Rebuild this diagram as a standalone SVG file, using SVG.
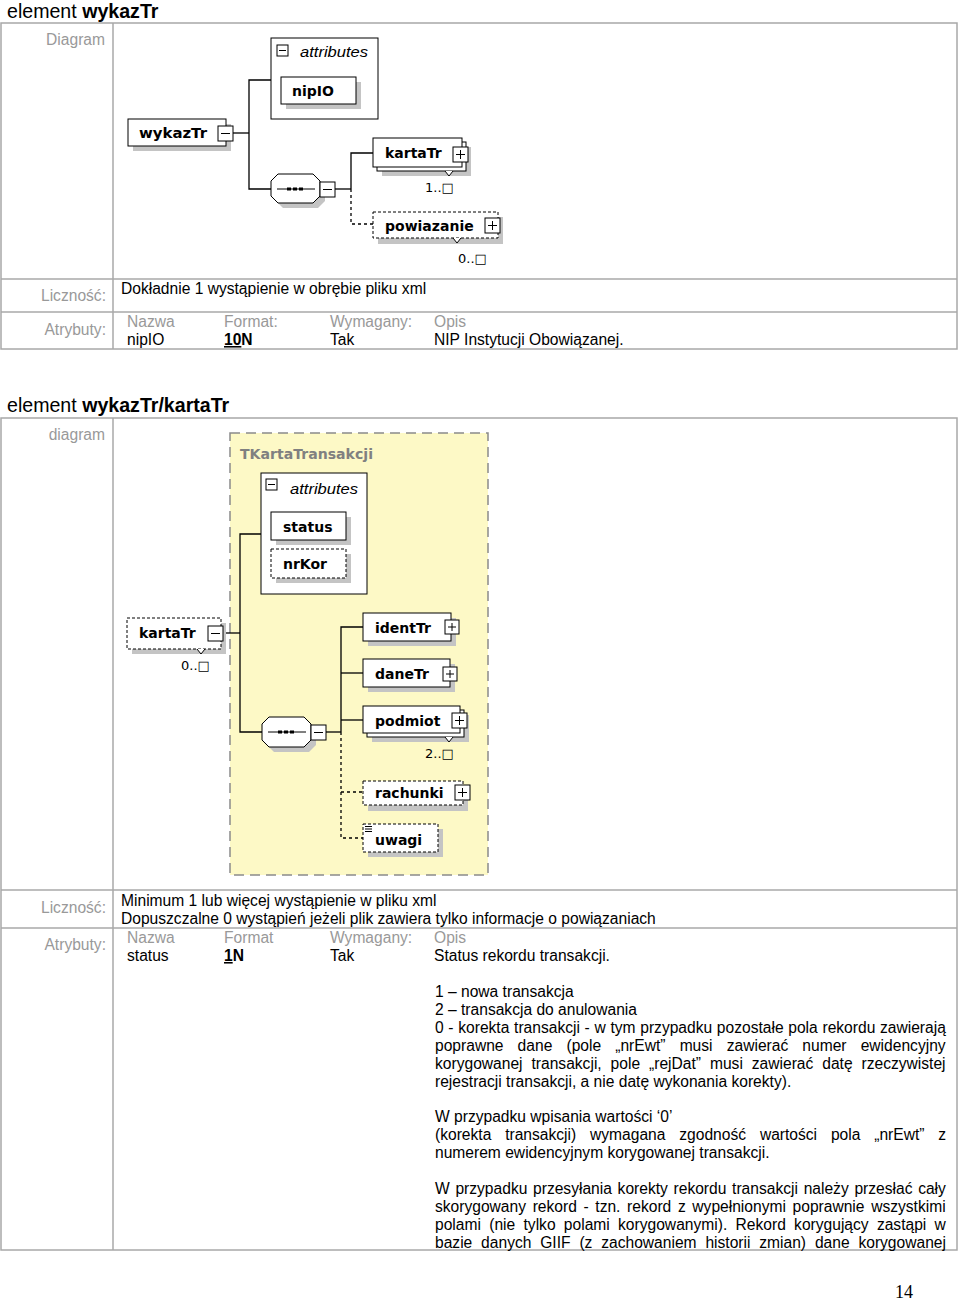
<svg xmlns="http://www.w3.org/2000/svg" width="960" height="1300" viewBox="0 0 960 1300">
<defs>
<style>
.t{font-family:"Liberation Sans",Arial,sans-serif;font-size:15.6px;fill:#000}
.g{font-family:"Liberation Sans",Arial,sans-serif;font-size:15.6px;fill:#999}
.h{font-family:"Liberation Sans",Arial,sans-serif;font-size:19.6px;fill:#000}
.tbl{fill:none;stroke:#a8a8a8;stroke-width:1.5}
.box{fill:#fff;stroke:#000;stroke-width:1}
.dbox{fill:#fff;stroke:#000;stroke-width:1;stroke-dasharray:3,2}
.sh{fill:#c4c4c4}
.n{font-family:"DejaVu Sans",Verdana,sans-serif;font-weight:bold;font-size:14px;fill:#000}
.it{font-family:"Liberation Sans",Arial,sans-serif;font-style:italic;font-size:15px;fill:#000}
.m{font-family:"DejaVu Sans",sans-serif;font-size:13px;fill:#000}
.c{fill:none;stroke:#000;stroke-width:1.3}
.dc{fill:none;stroke:#000;stroke-width:1.3;stroke-dasharray:3,3}
.pm{fill:#fff;stroke:#000;stroke-width:1}
</style>
</defs>

<!-- ===== Section 1 ===== -->
<text class="h" x="7" y="18">element <tspan font-weight="bold">wykazTr</tspan></text>
<g id="table1">
<rect class="tbl" x="1" y="23" width="956" height="326"/>
<line class="tbl" x1="113" y1="23" x2="113" y2="349"/>
<line class="tbl" x1="1" y1="279" x2="957" y2="279"/>
<line class="tbl" x1="1" y1="312" x2="957" y2="312"/>
<text class="g" x="105" y="45" text-anchor="end">Diagram</text>
<text class="g" x="106" y="301" text-anchor="end">Liczność:</text>
<text class="t" x="121" y="294">Dokładnie 1 wystąpienie w obrębie pliku xml</text>
<text class="g" x="106" y="335" text-anchor="end">Atrybuty:</text>
<text class="g" x="127" y="327">Nazwa</text>
<text class="g" x="224" y="327">Format:</text>
<text class="g" x="330" y="327">Wymagany:</text>
<text class="g" x="434" y="327">Opis</text>
<text class="t" x="127" y="345">nipIO</text>
<text class="t" x="224" y="345" font-weight="bold"><tspan text-decoration="underline">10</tspan>N</text>
<text class="t" x="330" y="345">Tak</text>
<text class="t" x="434" y="345">NIP Instytucji Obowiązanej.</text>
</g>

<g id="connectors1">
<polyline class="c" points="233,133 249,133"/>
<polyline class="c" points="271,80 249,80 249,189 271,189"/>
<polyline class="c" points="335,189 351,189"/>
<polyline class="c" points="373,153 351,153 351,189"/>
<polyline class="dc" points="351,189 351,224 373,224"/>
</g>

<g id="attributes1">
<rect class="box" x="271" y="38" width="107" height="81"/>
<rect class="pm" x="277" y="45" width="11" height="11"/>
<line x1="279" y1="50.5" x2="286" y2="50.5" stroke="#000"/>
<text class="it" x="300" y="57" textLength="68" lengthAdjust="spacingAndGlyphs">attributes</text>
</g>
<g id="nipIO">
<rect class="sh" x="286" y="82" width="75" height="27"/>
<rect class="box" x="281" y="77" width="75" height="27"/>
<text class="n" x="292" y="96">nipIO</text>
</g>
<g id="wykazTr">
<rect class="sh" x="133" y="124" width="98" height="27"/>
<rect class="box" x="128" y="119" width="98" height="27"/>
<text class="n" x="139" y="138" textLength="68" lengthAdjust="spacingAndGlyphs">wykazTr</text>
<rect class="pm" x="218" y="126" width="15" height="15"/>
<line x1="221" y1="133.5" x2="230" y2="133.5" stroke="#000"/>
</g>
<g id="sequence1">
<path class="sh" d="M283,179 H318 L325,186 V201 L318,208 H283 L276,201 V186 Z"/>
<path class="box" d="M278,174 H313 L320,181 V196 L313,203 H278 L271,196 V181 Z"/>
<line x1="277" y1="189" x2="315" y2="189" stroke="#000"/>
<rect x="287" y="187.5" width="4" height="3" fill="#000"/>
<rect x="293" y="187.5" width="4" height="3" fill="#000"/>
<rect x="299" y="187.5" width="4" height="3" fill="#000"/>
<rect class="pm" x="320" y="182" width="15" height="15"/>
<line x1="323" y1="189.5" x2="332" y2="189.5" stroke="#000"/>
</g>
<g id="kartaTr1">
<rect class="sh" x="382" y="147" width="89" height="29"/>
<rect class="box" x="377" y="142" width="89" height="29"/>
<rect class="box" x="373" y="138" width="89" height="29"/>
<path d="M445,171 L449,176 L453,171" fill="#fff" stroke="#000"/>
<text class="n" x="385" y="158">kartaTr</text>
<rect class="pm" x="453" y="147" width="15" height="15"/>
<line x1="456" y1="154.5" x2="465" y2="154.5" stroke="#000"/>
<line x1="460.5" y1="150" x2="460.5" y2="159" stroke="#000"/>
<text class="m" x="425" y="192">1..□</text>
</g>
<g id="powiazanie">
<rect class="sh" x="378" y="217" width="125" height="27"/>
<rect class="dbox" x="373" y="212" width="125" height="26"/>
<path d="M453,238 L457,243 L461,238" fill="#fff" stroke="#000"/>
<text class="n" x="385" y="231">powiazanie</text>
<rect class="pm" x="485" y="218" width="15" height="15"/>
<line x1="488" y1="225.5" x2="497" y2="225.5" stroke="#000"/>
<line x1="492.5" y1="221" x2="492.5" y2="230" stroke="#000"/>
<text class="m" x="458" y="263">0..□</text>
</g>

<!-- ===== Section 2 ===== -->
<text class="h" x="7" y="412">element <tspan font-weight="bold">wykazTr/kartaTr</tspan></text>
<g id="table2">
<rect class="tbl" x="1" y="418" width="956" height="832"/>
<line class="tbl" x1="113" y1="418" x2="113" y2="1250"/>
<line class="tbl" x1="1" y1="890" x2="957" y2="890"/>
<line class="tbl" x1="1" y1="928" x2="957" y2="928"/>
<text class="g" x="105" y="440" text-anchor="end">diagram</text>
<text class="g" x="106" y="913" text-anchor="end">Liczność:</text>
<text class="t" x="121" y="906">Minimum 1 lub więcej wystąpienie w pliku xml</text>
<text class="t" x="121" y="924">Dopuszczalne 0 wystąpień jeżeli plik zawiera tylko informacje o powiązaniach</text>
<text class="g" x="106" y="950" text-anchor="end">Atrybuty:</text>
<text class="g" x="127" y="943">Nazwa</text>
<text class="g" x="224" y="943">Format</text>
<text class="g" x="330" y="943">Wymagany:</text>
<text class="g" x="434" y="943">Opis</text>
<text class="t" x="127" y="961">status</text>
<text class="t" x="224" y="961" font-weight="bold"><tspan text-decoration="underline">1</tspan>N</text>
<text class="t" x="330" y="961">Tak</text>
<text class="t" x="434" y="961">Status rekordu transakcji.</text>
<text class="t" x="435" y="997">1 – nowa transakcja</text>
<text class="t" x="435" y="1015">2 – transakcja do anulowania</text>
<text class="t" x="435" y="1033" word-spacing="0.35">0 - korekta transakcji - w tym przypadku pozostałe pola rekordu zawierają</text>
<text class="t" x="435" y="1051" word-spacing="9.8">poprawne dane (pole „nrEwt” musi zawierać numer ewidencyjny</text>
<text class="t" x="435" y="1069" word-spacing="4.6">korygowanej transakcji, pole „rejDat” musi zawierać datę rzeczywistej</text>
<text class="t" x="435" y="1087">rejestracji transakcji, a nie datę wykonania korekty).</text>
<text class="t" x="435" y="1122">W przypadku wpisania wartości ‘0’</text>
<text class="t" x="435" y="1140" word-spacing="9.5">(korekta transakcji) wymagana zgodność wartości pola „nrEwt” z</text>
<text class="t" x="435" y="1158">numerem ewidencyjnym korygowanej transakcji.</text>
<text class="t" x="435" y="1194" word-spacing="1.35">W przypadku przesyłania korekty rekordu transakcji należy przesłać cały</text>
<text class="t" x="435" y="1212" word-spacing="2.3">skorygowany rekord - tzn. rekord z wypełnionymi poprawnie wszystkimi</text>
<text class="t" x="435" y="1230" word-spacing="3.95">polami (nie tylko polami korygowanymi). Rekord korygujący zastąpi w</text>
<text class="t" x="435" y="1248" word-spacing="4.5">bazie danych GIIF (z zachowaniem historii zmian) dane korygowanej</text>
</g>

<g id="TKartaTransakcji">
<rect x="230" y="433" width="258" height="442" fill="#fdf9c6" stroke="#8a8a8a" stroke-width="1.5" stroke-dasharray="10,6"/>
<text x="240" y="459" font-family="DejaVu Sans,Verdana,sans-serif" font-weight="bold" font-size="14" fill="#808080" textLength="133" lengthAdjust="spacingAndGlyphs">TKartaTransakcji</text>
</g>

<g id="connectors2">
<polyline class="c" points="261,534 240,534 240,732 262,732"/>
<polyline class="c" points="223,633 240,633"/>
<polyline class="c" points="326,732 341,732"/>
<polyline class="c" points="363,627 341,627 341,732"/>
<polyline class="c" points="341,673 363,673"/>
<polyline class="c" points="341,720 363,720"/>
<polyline class="dc" points="341,732 341,838 363,838"/>
<polyline class="dc" points="341,792 363,792"/>
</g>

<g id="attributes2">
<rect class="box" x="261" y="473" width="106" height="121"/>
<rect class="pm" x="266" y="479" width="11" height="11"/>
<line x1="268" y1="484.5" x2="275" y2="484.5" stroke="#000"/>
<text class="it" x="290" y="494" textLength="68" lengthAdjust="spacingAndGlyphs">attributes</text>
</g>
<g id="status">
<rect class="sh" x="276" y="517" width="75" height="28"/>
<rect class="box" x="271" y="512" width="75" height="28"/>
<text class="n" x="283" y="532">status</text>
</g>
<g id="nrKor">
<rect class="sh" x="276" y="554" width="75" height="29"/>
<rect class="dbox" x="271" y="549" width="75" height="29"/>
<text class="n" x="283" y="569">nrKor</text>
</g>
<g id="kartaTr2">
<rect class="sh" x="132" y="623" width="94" height="31"/>
<rect class="dbox" x="127" y="618" width="94" height="31"/>
<path d="M197,649 L201,654 L205,649" fill="#fff" stroke="#000"/>
<text class="n" x="139" y="638">kartaTr</text>
<rect class="pm" x="208" y="626" width="15" height="15"/>
<line x1="211" y1="633.5" x2="220" y2="633.5" stroke="#000"/>
<text class="m" x="181" y="670">0..□</text>
</g>
<g id="sequence2">
<path class="sh" d="M274,722 H309 L316,729 V745 L309,752 H274 L267,745 V729 Z"/>
<path class="box" d="M269,717 H304 L311,724 V740 L304,747 H269 L262,740 V724 Z"/>
<line x1="268" y1="732" x2="306" y2="732" stroke="#000"/>
<rect x="278" y="730.5" width="4" height="3" fill="#000"/>
<rect x="284" y="730.5" width="4" height="3" fill="#000"/>
<rect x="290" y="730.5" width="4" height="3" fill="#000"/>
<rect class="pm" x="311" y="725" width="15" height="15"/>
<line x1="314" y1="732.5" x2="323" y2="732.5" stroke="#000"/>
</g>
<g id="identTr">
<rect class="sh" x="368" y="618" width="88" height="28"/>
<rect class="box" x="363" y="613" width="88" height="28"/>
<text class="n" x="375" y="633">identTr</text>
<rect class="pm" x="445" y="620" width="14" height="14"/>
<line x1="448" y1="627" x2="456" y2="627" stroke="#000"/>
<line x1="452" y1="623" x2="452" y2="631" stroke="#000"/>
</g>
<g id="daneTr">
<rect class="sh" x="368" y="664" width="87" height="28"/>
<rect class="box" x="363" y="659" width="87" height="28"/>
<text class="n" x="375" y="679">daneTr</text>
<rect class="pm" x="443" y="667" width="14" height="14"/>
<line x1="446" y1="674" x2="454" y2="674" stroke="#000"/>
<line x1="450" y1="670" x2="450" y2="678" stroke="#000"/>
</g>
<g id="podmiot">
<rect class="sh" x="372" y="715" width="97" height="27"/>
<rect class="box" x="367" y="710" width="97" height="27"/>
<rect class="box" x="363" y="706" width="97" height="27"/>
<path d="M445,737 L449,742 L453,737" fill="#fff" stroke="#000"/>
<text class="n" x="375" y="726">podmiot</text>
<rect class="pm" x="452" y="713" width="15" height="15"/>
<line x1="455" y1="720.5" x2="464" y2="720.5" stroke="#000"/>
<line x1="459.5" y1="716" x2="459.5" y2="725" stroke="#000"/>
<text class="m" x="425" y="758">2..□</text>
</g>
<g id="rachunki">
<rect class="sh" x="368" y="787" width="100" height="24"/>
<rect class="dbox" x="363" y="781" width="100" height="24"/>
<text class="n" x="375" y="798">rachunki</text>
<rect class="pm" x="455" y="785" width="15" height="15"/>
<line x1="458" y1="792.5" x2="467" y2="792.5" stroke="#000"/>
<line x1="462.5" y1="788" x2="462.5" y2="797" stroke="#000"/>
</g>
<g id="uwagi">
<rect class="sh" x="368" y="829" width="75" height="28"/>
<rect class="dbox" x="363" y="824" width="75" height="28"/>
<line x1="365" y1="826.5" x2="372" y2="826.5" stroke="#000"/>
<line x1="365" y1="829" x2="372" y2="829" stroke="#000"/>
<line x1="365" y1="831.5" x2="372" y2="831.5" stroke="#000"/>
<text class="n" x="375" y="845">uwagi</text>
</g>

<text x="895" y="1298" font-family="Liberation Serif,Times New Roman,serif" font-size="18" fill="#000">14</text>
</svg>
